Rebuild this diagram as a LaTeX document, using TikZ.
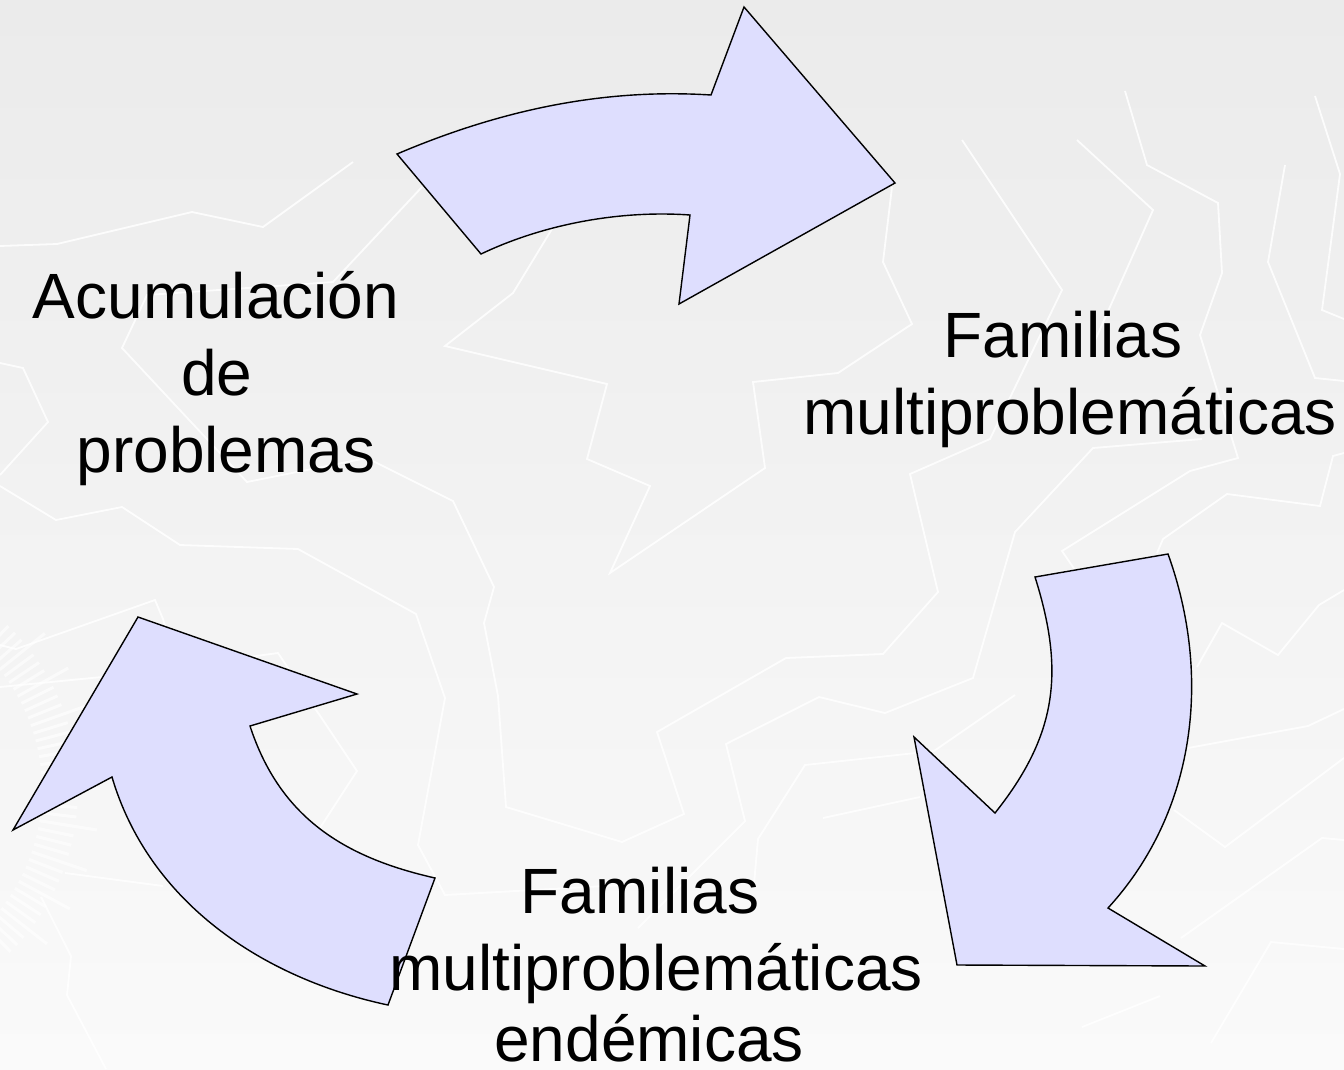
\documentclass[tikz,border=0pt]{standalone}
\usepackage{fontspec}
\setmainfont{Liberation Sans}
\definecolor{arrowfill}{RGB}{222,222,254}
\definecolor{bgtop}{RGB}{235,235,235}
\definecolor{bgbot}{RGB}{250,250,250}
\begin{document}
\begin{tikzpicture}[x=1pt,y=-1pt,
  cyclearrow/.style={fill=arrowfill, draw=black, line width=1.4pt, line join=miter},
  bgline/.style={draw=white, line width=1.8pt, line join=miter, opacity=0.85},
  hatch/.style={draw=white, line width=3pt, opacity=0.6},
  lbl/.style={font=\fontsize{64}{77}\selectfont, inner sep=0pt, anchor=base, text=black}]
\useasboundingbox (0,0) rectangle (1344,1069);
\clip (0,0) rectangle (1344,1069);
\shade[top color=bgtop, bottom color=bgbot] (0,0) rectangle (1344,1069);

% decorative background lines
\draw[bgline] (0,246) -- (57,244) -- (192,212) -- (263,227) -- (353,162);
\draw[bgline] (422,187) -- (333,282) -- (147,295) -- (122,348) -- (247,482) -- (367,458) -- (453,501) -- (494,587) -- (484,623) -- (498,696) -- (506,807) -- (622,842) -- (684,814) -- (657,732) -- (786,658) -- (883,654) -- (938,592) -- (910,474) -- (990,439) -- (1062,290) -- (962,140);
\draw[bgline] (555,224) -- (513,293) -- (445,346) -- (607,384) -- (587,459) -- (650,486) -- (610,573) -- (765,468) -- (753,382) -- (838,373) -- (912,324) -- (883,262) -- (892,187);
\draw[bgline] (0,363) -- (23,368) -- (48,422) -- (0,475);
\draw[bgline] (0,486) -- (56,520) -- (122,507) -- (180,545) -- (298,549) -- (416,614) -- (445,698) -- (418,845) -- (445,895) -- (640,884);
\draw[bgline] (0,645) -- (16,649) -- (155,600) -- (163,619) -- (180,680);
\draw[bgline] (0,687) -- (102,677) -- (278,653) -- (357,771) -- (318,831);
\draw[bgline] (65,873) -- (163,886);
\draw[bgline] (41,897) -- (71,956) -- (67,995) -- (106,1069);
\draw[bgline] (1202,439) -- (1093,448) -- (1015,532) -- (973,678) -- (885,713) -- (819,697) -- (726,744) -- (745,821) -- (638,928);
\draw[bgline] (1125,91) -- (1147,165) -- (1218,203) -- (1222,273) -- (1200,335) -- (1238,458) -- (1190,471) -- (1062,551) -- (1075,570);
\draw[bgline] (1077,140) -- (1153,210) -- (1093,345);
\draw[bgline] (1285,165) -- (1268,262) -- (1315,378) -- (1344,381);
\draw[bgline] (1315,96) -- (1340,174) -- (1322,310) -- (1344,319);
\draw[bgline] (1344,453) -- (1333,456) -- (1320,506) -- (1227,494) -- (1163,539) -- (1157,553);
\draw[bgline] (1344,590) -- (1319,605) -- (1278,655) -- (1222,623) -- (1197,667);
\draw[bgline] (1188,748) -- (1308,726) -- (1344,709);
\draw[bgline] (1015,695) -- (934,751) -- (805,765) -- (758,839) -- (754,884);
\draw[bgline] (1174,810) -- (1225,847) -- (1344,758);
\draw[bgline] (823,818) -- (920,797);
\draw[bgline] (1181,938) -- (1322,838) -- (1344,840);
\draw[bgline] (1344,949) -- (1271,942) -- (1211,1043);
\draw[bgline] (1160,996) -- (1082,1027);
\foreach \a [count=\i] in {-46,-43.6,...,46} {
  \pgfmathsetmacro{\rr}{ifthenelse(mod(\i,4)==0,250,228)}
  \draw[hatch] ([shift={(\a:192)}]-150,790) -- ([shift={(\a:\rr)}]-150,790);
}

% cycle arrows
\draw[cyclearrow] (397,154) .. controls (498,111) and (601,88) .. (711,95) -- (744,7) -- (895,183) -- (679,304) -- (690,215) .. controls (620,210) and (544,224) .. (481,254) -- cycle;
\draw[cyclearrow] (1108,908) .. controls (1196,812) and (1212,676) .. (1168,554) -- (1035,577) .. controls (1065,672) and (1057,735) .. (995,813) -- (914,737) -- (957,965) -- (1205,966) -- cycle;
\draw[cyclearrow] (138,617) -- (357,694) -- (250,726) .. controls (279.5,816) and (342,857) .. (435,878) -- (388,1005) .. controls (261,978) and (148.5,901) .. (112,777) -- (13,830) -- cycle;

% labels
\node[lbl] (acum1) at (216,318) {Acumulación};
\node[lbl] (acum2) at (217,395) {de};
\node[lbl] (acum3) at (226,472) {problemas};
\node[lbl] (fam1) at (1063,357) {Familias};
\node[lbl] (fam2) at (1070,434) {multiproblemáticas};
\node[lbl] (end1) at (640,913) {Familias};
\node[lbl] (end2) at (656,990) {multiproblemáticas};
\node[lbl, text depth=0pt] (end3) at (649,1061) {endémicas};
\end{tikzpicture}
\end{document}
